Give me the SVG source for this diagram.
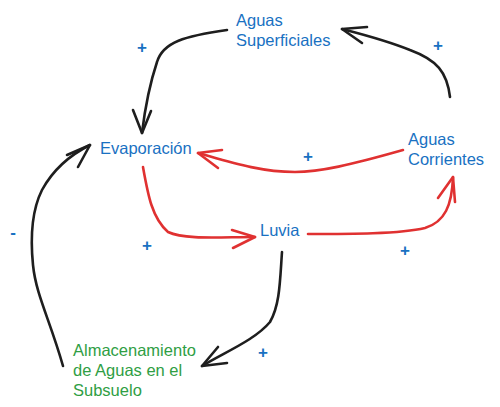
<svg xmlns="http://www.w3.org/2000/svg" width="500" height="407" viewBox="0 0 500 407">
<style>
.t{font-family:"Liberation Sans","Noto Sans",sans-serif;font-size:16.5px}
.b{fill:#1971c2}
.g{fill:#2f9e44}
.s{font-family:"Liberation Sans",sans-serif;font-size:17px;font-weight:bold;fill:#1971c2}
.k{fill:none;stroke:#1e1e1e;stroke-width:2.6;stroke-linecap:round;stroke-linejoin:round}
.r{fill:none;stroke:#e03131;stroke-width:2.6;stroke-linecap:round;stroke-linejoin:round}
</style>
<rect width="500" height="407" fill="#ffffff"/>
<g id="connectors">
<path class="k" d="M227,30 C185,36 163,42 157,62 C151,80 146,100 142,133"/>
<path class="k" d="M133,110 L142,133 L151,111"/>
<path class="k" d="M450,97 C447,72 437,60 410,50 C385,40 365,35 342,29"/>
<path class="k" d="M367,27 L342,29 L362,43"/>
<path class="r" d="M403,150 C350,165 320,172 295,172 C260,172 230,162 198,153"/>
<path class="r" d="M222,150 L198,153 L218,168"/>
<path class="r" d="M143,167 C148,195 152,218 168,232 C185,240 220,237 255,237"/>
<path class="r" d="M232,230 L255,237 L233,248"/>
<path class="r" d="M308,234 C350,234 400,234 425,228 C445,222 452,205 453,177"/>
<path class="r" d="M438,198 L453,177 L455,202"/>
<path class="k" d="M282,252 C280,280 280,305 270,322 C255,340 225,352 202,366"/>
<path class="k" d="M218,347 L202,366 L227,363"/>
<path class="k" d="M63,366 C50,320 36,295 33,265 C30,235 32,210 42,190 C54,168 70,155 90,145"/>
<path class="k" d="M67,155 L90,145 L78,167"/>
</g>
<g id="aguas-superficiales"><text class="t b" x="236" y="26">Aguas</text><text class="t b" x="236" y="46">Superficiales</text></g>
<g id="evaporacion"><text class="t b" x="100" y="154">Evaporación</text></g>
<g id="aguas-corrientes"><text class="t b" x="408" y="145">Aguas</text><text class="t b" x="408" y="165">Corrientes</text></g>
<g id="luvia"><text class="t b" x="260" y="236">Luvia</text></g>
<g id="almacenamiento"><text class="t g" x="73" y="356">Almacenamiento</text><text class="t g" x="73" y="376">de Aguas en el</text><text class="t g" x="73" y="396">Subsuelo</text></g>
<g id="signs">
<text class="s" x="142" y="53" text-anchor="middle">+</text>
<text class="s" x="438" y="51" text-anchor="middle">+</text>
<text class="s" x="308" y="162" text-anchor="middle">+</text>
<text class="s" x="147" y="251" text-anchor="middle">+</text>
<text class="s" x="405" y="256" text-anchor="middle">+</text>
<text class="s" x="263" y="358" text-anchor="middle">+</text>
<text class="s" x="13" y="238" text-anchor="middle">-</text>
</g>
</svg>
